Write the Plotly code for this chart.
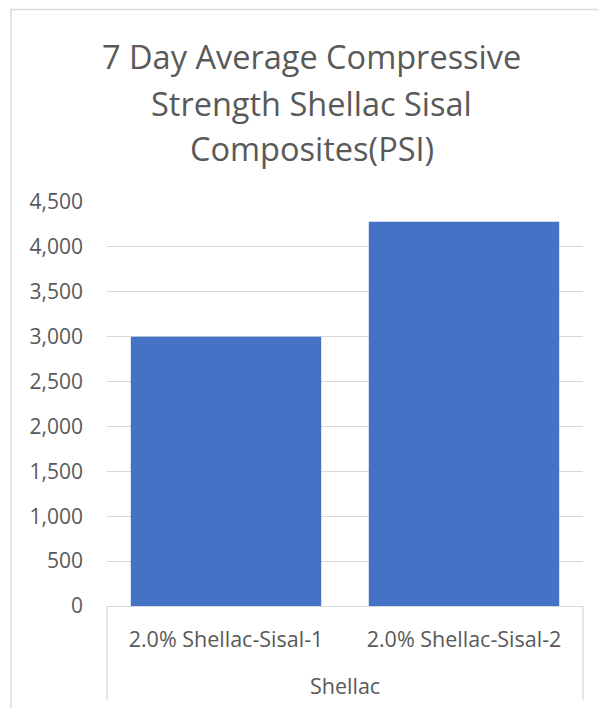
import plotly.graph_objects as go

# Data
group_label = "Shellac"
samples = ["2.0% Shellac-Sisal-1", "2.0% Shellac-Sisal-2"]
strength_psi = [3000, 4280]
tick_vals = [0, 500, 1000, 1500, 2000, 2500, 3000, 3500, 4000, 4500]
tick_text = ["0", "500", "1,000", "1,500", "2,000", "2,500", "3,000", "3,500", "4,000", "4,500"]
title_lines = ["7 Day Average Compressive", "Strength Shellac Sisal", "Composites(PSI)"]

FONT = "Open Sans"
GRAY_TEXT = "#595959"
GRID = "#d9d9d9"

# Plot area geometry (pixels)
W, H = 598, 708
PL, PR, PT, PB = 107, 583, 202, 606


def px_x(x):
    return (x - PL) / (PR - PL)


def px_y(y):
    return (PB - y) / (PB - PT)


fig = go.Figure(
    go.Bar(
        x=samples,
        y=strength_psi,
        marker=dict(color="#4472C4", line=dict(width=0)),
        width=0.8,
    )
)

fig.update_layout(
    width=W,
    height=H,
    margin=dict(l=PL, r=W - PR, t=PT, b=H - PB),
    paper_bgcolor="white",
    plot_bgcolor="white",
    showlegend=False,
    font=dict(family=FONT, color=GRAY_TEXT),
)

fig.update_yaxes(
    range=[0, 4500],
    tickvals=tick_vals,
    ticktext=tick_text,
    showgrid=True,
    gridcolor=GRID,
    gridwidth=1.3,
    zeroline=False,
    showline=False,
    ticks="",
    ticklabelstandoff=23,
    tickfont=dict(size=21, color=GRAY_TEXT),
)

fig.update_xaxes(
    type="category",
    showline=True,
    linecolor=GRID,
    linewidth=1.3,
    ticks="",
    ticklabelstandoff=14,
    tickfont=dict(size=21.5, color=GRAY_TEXT),
)

# Chart title, one line per annotation
for text, cy in zip(title_lines, [57, 103, 148]):
    fig.add_annotation(
        text=text, xref="paper", yref="paper",
        x=px_x(311.5), y=px_y(cy), xanchor="center", yanchor="middle",
        showarrow=False, font=dict(family=FONT, size=32.5, color=GRAY_TEXT),
    )

# Group label under the category labels
fig.add_annotation(
    text=group_label, xref="paper", yref="paper",
    x=0.5, y=px_y(685), xanchor="center", yanchor="middle",
    showarrow=False, font=dict(family=FONT, size=21.5, color=GRAY_TEXT),
)

# Label frame below the plot area and outer chart border
for xe in (0, 1):
    fig.add_shape(type="line", xref="paper", yref="paper", x0=xe, x1=xe,
                  y0=0, y1=px_y(700), line=dict(color=GRID, width=1.3))
fig.add_shape(type="rect", xref="paper", yref="paper",
              x0=px_x(11), x1=px_x(640), y0=px_y(740), y1=px_y(9.5),
              line=dict(color=GRID, width=1.5), fillcolor="rgba(0,0,0,0)", layer="below")

fig.write_html("out.html")
